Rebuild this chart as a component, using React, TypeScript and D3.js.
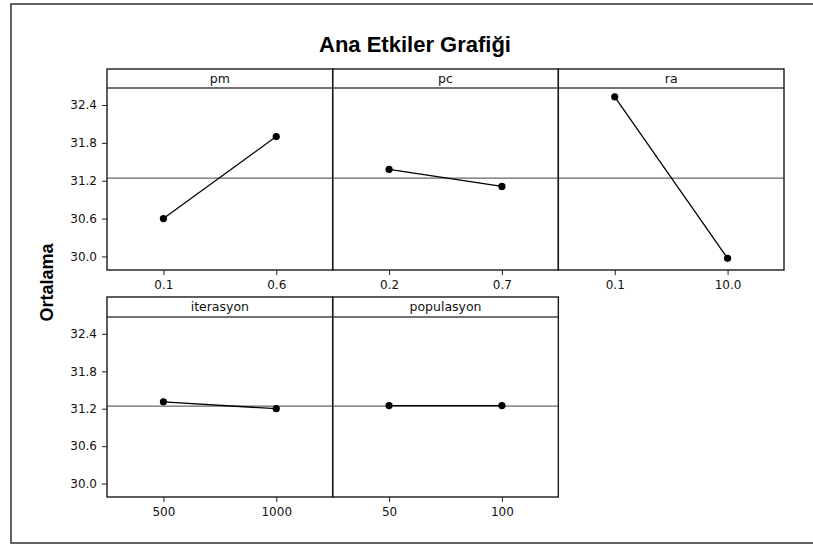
import { useRef, useEffect } from 'react';
import * as d3 from 'd3';

// factor names and their two levels
const factors = ['pm', 'pc', 'ra', 'iterasyon', 'populasyon'];
const pmLevels = ['0.1', '0.6'];
const pcLevels = ['0.2', '0.7'];
const raLevels = ['0.1', '10.0'];
const iterLevels = ['500', '1000'];
const popLevels = ['50', '100'];

// mean response at each level
const pmMeans = [30.6, 31.9];
const pcMeans = [31.38, 31.11];
const raMeans = [32.53, 29.97];
const iterMeans = [31.31, 31.2];
const popMeans = [31.25, 31.25];

const grandMean = 31.24;
const yTicks = [30.0, 30.6, 31.2, 31.8, 32.4];

const levelsList = [pmLevels, pcLevels, raLevels, iterLevels, popLevels];
const meansList = [pmMeans, pcMeans, raMeans, iterMeans, popMeans];

const W = 813;
const H = 544;
const FONT = "'DejaVu Sans', sans-serif";

const MainEffects = () => {
  const ref = useRef<SVGSVGElement>(null);

  useEffect(() => {
    const svg = d3.select(ref.current);
    svg.selectAll('*').remove();

    const left = 107;
    const right = 784;
    const colW = (right - left) / 3;
    const rows = [
      { top: 69, strip: 19, bottom: 270 },
      { top: 297, strip: 20, bottom: 497 },
    ];

    // outer frame
    svg.append('rect')
      .attr('x', 11).attr('y', 4)
      .attr('width', 810).attr('height', 539)
      .attr('fill', 'white')
      .attr('stroke', '#3a3a3a')
      .attr('stroke-width', 1.6);

    svg.append('text')
      .attr('x', 415).attr('y', 51.5)
      .attr('text-anchor', 'middle')
      .attr('font-family', "'Liberation Sans', Arial, sans-serif")
      .attr('font-weight', 'bold')
      .attr('font-size', 22)
      .attr('fill', '#000')
      .text('Ana Etkiler Grafiği');

    svg.append('text')
      .attr('transform', 'translate(53, 282.5) rotate(-90)')
      .attr('text-anchor', 'middle')
      .attr('font-family', "'Liberation Sans', Arial, sans-serif")
      .attr('font-weight', 'bold')
      .attr('font-size', 18)
      .attr('fill', '#000')
      .text('Ortalama');

    factors.forEach((name, i) => {
      const row = rows[Math.floor(i / 3)];
      const col = i % 3;
      const x0 = left + col * colW;
      const x1 = x0 + colW;
      const plotTop = row.top + row.strip;

      const x = d3.scalePoint()
        .domain(levelsList[i])
        .range([x0, x1])
        .padding(0.5);

      const y = d3.scaleLinear()
        .domain([29.785, 32.67])
        .range([row.bottom, plotTop]);

      const g = svg.append('g').attr('class', 'panel');

      // mean reference line
      g.append('line')
        .attr('x1', x0).attr('x2', x1)
        .attr('y1', y(grandMean)).attr('y2', y(grandMean))
        .attr('stroke', '#666')
        .attr('stroke-width', 1.2);

      const pts = levelsList[i].map((lv, k) => ({ lv, v: meansList[i][k] }));

      g.append('path')
        .datum(pts)
        .attr('fill', 'none')
        .attr('stroke', '#000')
        .attr('stroke-width', 1.3)
        .attr('d', d3.line<{ lv: string; v: number }>()
          .x(d => x(d.lv) as number)
          .y(d => y(d.v)));

      g.selectAll('circle')
        .data(pts)
        .enter().append('circle')
        .attr('cx', d => x(d.lv) as number)
        .attr('cy', d => y(d.v))
        .attr('r', 3.6)
        .attr('fill', '#000');

      // x axis
      const xa = g.append('g')
        .attr('transform', `translate(0, ${row.bottom})`)
        .call(d3.axisBottom(x).tickSize(5).tickPadding(5));
      xa.select('.domain').remove();
      xa.selectAll('line').attr('stroke', '#222');
      xa.selectAll('text')
        .attr('font-family', FONT).attr('font-size', 12).attr('fill', '#111');

      // y axis only on the left column
      if (col === 0) {
        const ya = g.append('g')
          .attr('transform', `translate(${x0}, 0)`)
          .call(d3.axisLeft(y).tickValues(yTicks).tickFormat(d3.format('.1f')).tickSize(5).tickPadding(5));
        ya.select('.domain').remove();
        ya.selectAll('line').attr('stroke', '#222');
        ya.selectAll('text')
          .attr('font-family', FONT).attr('font-size', 12).attr('fill', '#111');
      }

      // strip
      g.append('line')
        .attr('x1', x0).attr('x2', x1)
        .attr('y1', plotTop).attr('y2', plotTop)
        .attr('stroke', '#444')
        .attr('stroke-width', 1.3);

      g.append('text')
        .attr('x', (x0 + x1) / 2)
        .attr('y', row.top + row.strip / 2 + 4)
        .attr('text-anchor', 'middle')
        .attr('font-family', FONT)
        .attr('font-size', 12.5)
        .attr('fill', '#111')
        .text(name);

      // panel frame
      g.append('rect')
        .attr('x', x0).attr('y', row.top)
        .attr('width', colW).attr('height', row.bottom - row.top)
        .attr('fill', 'none')
        .attr('stroke', '#1a1a1a')
        .attr('stroke-width', 1.4);
    });
  }, []);

  return (
    <svg ref={ref} width={W} height={H}
      style={{ position: 'absolute', left: 0, top: 0, display: 'block', background: 'white' }}></svg>
  );
};

export default function App() {
  return <MainEffects />;
}
